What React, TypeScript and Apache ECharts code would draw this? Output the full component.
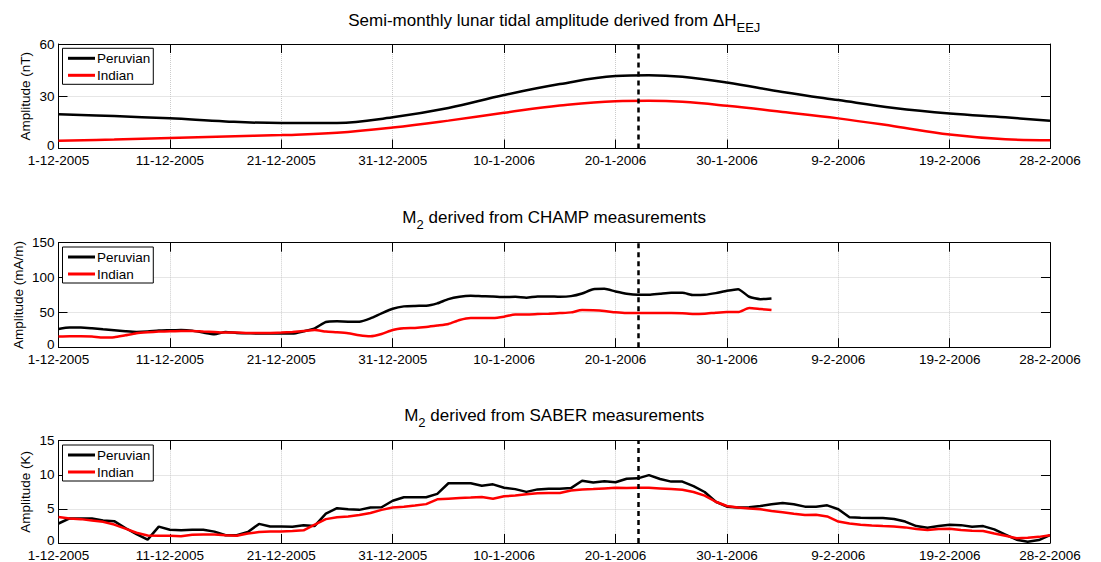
import React, { useEffect, useRef } from 'react';
import * as echarts from 'echarts';

// ---------- data ----------
const xTickDays = [0, 10, 20, 30, 40, 50, 60, 70, 80, 89];
const xTickLabels = ['1-12-2005', '11-12-2005', '21-12-2005', '31-12-2005', '10-1-2006', '20-1-2006', '30-1-2006', '9-2-2006', '19-2-2006', '28-2-2006'];
const markerDay = 52;
const seriesNames = ['Peruvian', 'Indian'];

const panelTitles = [
  '{m|Semi-monthly lunar tidal amplitude derived from ΔH}{s|EEJ}',
  '{m|M}{s|2}{m| derived from CHAMP measurements}',
  '{m|M}{s|2}{m| derived from SABER measurements}',
];
const yNames = ['Amplitude (nT)', 'Amplitude (mA/m)', 'Amplitude (K)'];
const yMax = [60, 150, 15];
const yInterval = [30, 50, 5];

// Panel 1: semi-monthly lunar tidal amplitude (ΔH EEJ)
const eejDays = [0, 5, 10, 15, 20, 25, 30, 35, 40, 45, 50, 53, 56, 60, 65, 70, 75, 80, 85, 89];
const eejPeruvian = [19.7, 18.6, 17.3, 15.5, 14.6, 14.7, 18.0, 23.3, 30.7, 37.0, 41.6, 42.1, 41.2, 37.9, 32.5, 27.8, 23.3, 20.1, 17.9, 15.9];
const eejIndian = [4.4, 5.2, 6.1, 6.9, 7.7, 9.0, 12.0, 16.0, 20.5, 24.7, 27.2, 27.4, 26.8, 24.5, 21.0, 17.3, 12.8, 8.0, 5.3, 4.8];

// Panel 2: M2 from CHAMP (daily, day 0 = 1-12-2005)
const champPeruvian = [
  26.2, 28.1, 28.1, 27.1, 25.7, 24.3, 22.9, 21.9, 22.4, 23.8,
  24.3, 24.8, 23.8, 21.0, 18.6, 21.9, 20.5, 20.0, 19.5, 19.5,
  19.5, 19.5, 22.9, 27.1, 36.2, 37.1, 36.7, 36.7, 41.4, 48.6,
  55.2, 58.6, 59.3, 59.5, 62.9, 69.0, 72.4, 73.8, 73.3, 72.9,
  71.9, 72.4, 71.0, 72.9, 72.9, 72.4, 73.3, 77.1, 83.3, 83.8,
  80.0, 76.7, 75.2, 75.2, 76.7, 78.1, 78.1, 74.8, 75.2, 77.6,
  81.0, 83.3, 72.4, 69.0, 70.0,
];
const champIndian = [
  15.2, 15.7, 15.7, 15.2, 13.8, 14.3, 17.1, 20.0, 21.4, 22.4,
  22.9, 23.3, 23.3, 22.4, 21.9, 21.0, 21.0, 20.5, 20.5, 20.5,
  21.0, 21.9, 23.3, 24.8, 22.4, 21.4, 20.0, 17.1, 15.7, 19.0,
  24.8, 27.1, 27.6, 29.0, 31.0, 33.3, 39.0, 41.9, 41.9, 41.9,
  43.8, 47.1, 47.1, 47.6, 48.1, 49.0, 50.0, 53.3, 52.9, 51.9,
  50.0, 49.0, 49.0, 49.0, 49.0, 49.0, 48.6, 47.6, 48.1, 49.5,
  50.5, 50.5, 56.2, 54.8, 53.3,
];

// Panel 3: M2 from SABER (daily)
const saberPeruvian = [
  2.86, 3.6, 3.6, 3.6, 3.3, 3.2, 2.2, 1.3, 0.5, 2.4,
  1.95, 1.86, 1.95, 1.95, 1.67, 1.14, 1.14, 1.62, 2.8, 2.43,
  2.43, 2.38, 2.6, 2.5, 4.3, 5.1, 4.95, 4.86, 5.2, 5.24,
  6.2, 6.7, 6.7, 6.7, 7.2, 8.76, 8.76, 8.76, 8.4, 8.6,
  8.1, 7.9, 7.5, 7.86, 7.95, 7.95, 8.05, 9.14, 8.86, 9.05,
  8.9, 9.43, 9.48, 9.95, 9.38, 9.0, 9.0, 8.33, 7.48, 6.05,
  5.33, 5.2, 5.24, 5.43, 5.67, 5.86, 5.67, 5.33, 5.33, 5.52,
  4.95, 3.76, 3.71, 3.67, 3.67, 3.52, 3.14, 2.48, 2.24, 2.48,
  2.67, 2.62, 2.38, 2.48, 2.0, 1.24, 0.48, 0.19, 0.43, 1.14,
];
const saberIndian = [
  3.8, 3.6, 3.5, 3.3, 3.1, 2.7, 2.1, 1.5, 1.1, 1.05,
  1.05, 1.0, 1.2, 1.24, 1.24, 1.14, 1.05, 1.38, 1.6, 1.67,
  1.7, 1.76, 1.86, 2.7, 3.5, 3.76, 3.9, 4.1, 4.4, 4.86,
  5.2, 5.33, 5.5, 5.7, 6.4, 6.5, 6.6, 6.67, 6.76, 6.5,
  6.86, 6.95, 7.14, 7.3, 7.33, 7.33, 7.7, 7.86, 7.9, 8.0,
  8.1, 8.05, 8.1, 8.1, 8.0, 7.9, 7.8, 7.48, 6.95, 6.05,
  5.43, 5.2, 5.05, 4.95, 4.7, 4.52, 4.29, 4.1, 4.14, 3.9,
  3.14, 2.86, 2.67, 2.57, 2.48, 2.43, 2.29, 2.05, 1.9, 2.05,
  2.1, 1.9, 1.81, 1.76, 1.38, 1.05, 0.71, 0.76, 0.9, 1.14,
];

// ---------- layout ----------
const FONT = '"Liberation Sans", Arial, Helvetica, sans-serif';
const GRID_LEFT = 58.5;
const GRID_WIDTH = 991.5;
const GRID_HEIGHT = 104.5;
const gridTops = [44, 242.7, 440.7];
const titleYs = [20.1, 217.4, 415.8];
const nameGaps = [26.5, 33, 26.5];
const COLORS = ['#000000', '#ff0000'];

function dayLabel(v: number): string {
  const k = xTickDays.indexOf(Math.round(v));
  return k >= 0 ? xTickLabels[k] : '';
}

function buildOption() {
  const grid: any[] = [];
  const xAxis: any[] = [];
  const yAxis: any[] = [];
  const legend: any[] = [];
  const series: any[] = [];
  const axisLine = { show: true, onZero: false, lineStyle: { color: '#000', width: 1 } };
  const tick = { show: true, inside: true, length: 9, lineStyle: { color: '#000', width: 1 } };
  const split = { show: true, lineStyle: { color: '#cccccc', type: 'dotted', width: 1 } };

  const panelData = [
    [eejPeruvian.map((v, i) => [eejDays[i], v]), eejIndian.map((v, i) => [eejDays[i], v])],
    [champPeruvian.map((v, i) => [i, v]), champIndian.map((v, i) => [i, v])],
    [saberPeruvian.map((v, i) => [i, v]), saberIndian.map((v, i) => [i, v])],
  ];
  const smooth = [0.4, 0.2, false];

  for (let p = 0; p < 3; p++) {
    grid.push({ left: GRID_LEFT, top: gridTops[p], width: GRID_WIDTH, height: GRID_HEIGHT, show: false });
    xAxis.push({
      type: 'value', gridIndex: p, position: 'bottom', min: 0, max: 89, interval: 10,
      axisLine, axisTick: tick, splitLine: split,
      axisLabel: {
        show: true, margin: 5, fontSize: 13.5, fontFamily: FONT, color: '#000',
        showMinLabel: true, showMaxLabel: true, formatter: dayLabel,
      },
    });
    xAxis.push({
      type: 'value', gridIndex: p, position: 'top', min: 0, max: 89, interval: 10,
      axisLine, axisTick: tick, splitLine: { show: false }, axisLabel: { show: false },
    });
    yAxis.push({
      type: 'value', gridIndex: p, position: 'left', min: 0, max: yMax[p], interval: yInterval[p],
      name: yNames[p], nameLocation: 'middle', nameGap: nameGaps[p], nameMoveOverlap: false,
      nameTextStyle: { fontSize: 13.5, fontFamily: FONT, color: '#000' },
      axisLine, axisTick: tick, splitLine: split,
      axisLabel: {
        show: true, margin: 4, fontSize: 13.5, fontFamily: FONT, color: '#000',
        formatter: (v: number) => (v === 0 ? '{z|0}' : String(v)),
        rich: { z: { fontSize: 13.5, fontFamily: FONT, color: '#000', padding: [0, 0, 6, 0] } },
      },
    });
    yAxis.push({
      type: 'value', gridIndex: p, position: 'right', min: 0, max: yMax[p], interval: yInterval[p],
      axisLine, axisTick: tick, splitLine: { show: false }, axisLabel: { show: false },
    });
    legend.push({
      data: seriesNames, orient: 'vertical', left: 62.5, top: gridTops[p] + 4.3,
      itemWidth: 27, itemHeight: 3, itemGap: 3, icon: 'rect',
      borderColor: '#000', borderWidth: 1, borderRadius: 0, backgroundColor: '#fff',
      padding: [3, 3, 2, 5.5], selectedMode: false,
      textStyle: { fontSize: 13.5, fontFamily: FONT, color: '#000', padding: [0, 0, 0, -3] },
      z: 10,
    });
    for (let s = 0; s < 2; s++) {
      const ser: any = {
        type: 'line', name: seriesNames[s], xAxisIndex: p * 2, yAxisIndex: p * 2,
        data: panelData[p][s], showSymbol: false, symbol: 'none', smooth: smooth[p],
        lineStyle: { color: COLORS[s], width: 2.5 }, itemStyle: { color: COLORS[s] },
        emphasis: { disabled: true }, silent: true, z: 3 + s,
      };
      if (s === 0) {
        ser.markLine = {
          silent: true, symbol: ['none', 'none'], label: { show: false },
          lineStyle: { color: '#000', type: [5, 4], width: 2.5 },
          data: [{ xAxis: markerDay }],
        };
      }
      series.push(ser);
    }
  }

  const graphic = panelTitles.map((t, i) => ({
    type: 'text', x: GRID_LEFT + GRID_WIDTH / 2, y: titleYs[i], silent: true,
    style: {
      text: t, align: 'center', verticalAlign: 'middle',
      rich: {
        m: { fontSize: 17, fontFamily: FONT, fill: '#000' },
        s: { fontSize: 13, fontFamily: FONT, fill: '#000', padding: [14, 0, 0, 0] },
      },
    },
  }));

  return {
    animation: false, backgroundColor: '#fff',
    grid, xAxis, yAxis, legend, series, graphic,
  };
}

export default function App() {
  const ref = useRef<HTMLDivElement>(null);
  useEffect(() => {
    if (!ref.current) return;
    const chart = echarts.init(ref.current, undefined, { renderer: 'svg' });
    chart.setOption(buildOption() as any);
    return () => chart.dispose();
  }, []);
  return (
    <div
      ref={ref}
      style={{ position: 'fixed', left: 0, top: 0, width: 1101, height: 562, background: '#fff' }}
    />
  );
}
